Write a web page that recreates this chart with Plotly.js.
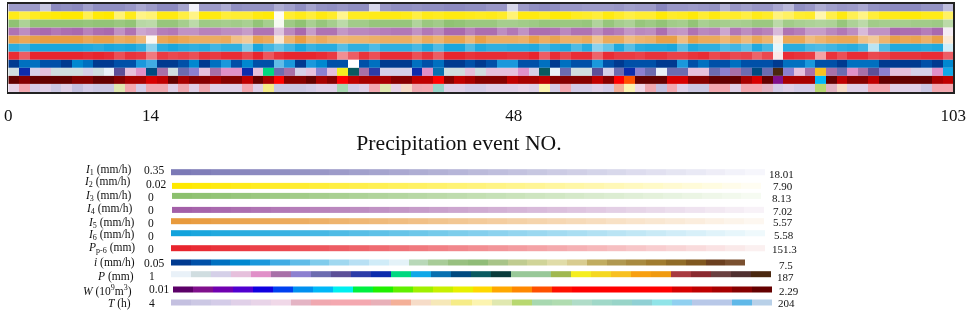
<!DOCTYPE html>
<html><head><meta charset="utf-8">
<script src="https://cdn.plot.ly/plotly-3.0.1.min.js"></script>
<style>html,body{margin:0;padding:0;background:#fff}#c{width:969px;height:311px;filter:blur(0.4px)}</style>
</head><body><div id="c"></div>
<script>
// colour class of each precipitation event (0..29), one list per variable
const I1=[8,8,8,18,4,5,4,9,5,5,5,7,11,8,4,4,10,28,8,8,12,5,6,6,6,12,9,5,10,6,
5,7,5,5,22,7,5,5,6,5,5,4,4,5,5,7,7,22,8,5,4,5,7,7,8,8,8,7,9,8,
8,3,7,7,8,7,6,13,7,9,7,7,11,15,5,7,12,9,7,8,11,6,5,4,4,4,6,6,16];
const I2=[3,8,4,2,1,0,0,10,1,0,14,3,16,14,2,2,8,16,1,2,7,6,6,2,1,29,6,3,7,2,
5,17,4,4,3,2,2,3,8,3,4,2,2,3,4,3,5,14,2,2,4,1,1,4,5,7,2,5,8,6,
6,1,5,4,1,6,2,6,5,8,3,5,15,12,6,5,21,9,2,10,16,7,3,3,1,1,3,3,12];
const I3=[1,9,2,2,2,2,2,3,2,2,4,2,12,13,3,3,7,13,5,6,7,6,8,2,7,29,5,1,8,3,
7,13,6,6,3,3,3,3,10,4,6,1,2,4,4,4,7,7,6,5,3,4,4,4,3,10,3,7,9,3,
5,2,6,7,2,8,6,7,8,7,4,4,13,6,8,9,10,9,3,9,13,6,7,7,7,6,6,5,13];
const I4=[4,9,3,2,5,3,2,7,3,2,10,4,14,12,6,5,10,10,7,7,9,9,12,4,4,20,8,2,12,4,
4,11,8,8,7,6,5,5,10,5,8,2,2,7,3,3,9,5,10,3,3,4,8,4,4,9,4,6,11,8,
9,3,10,11,4,8,7,14,5,9,5,7,18,4,6,12,12,8,5,9,18,10,10,2,3,3,6,2,28];
const I5=[2,4,2,1,1,1,1,4,2,2,6,4,9,29,4,2,4,6,6,6,5,12,15,3,5,24,8,1,8,5,
8,9,8,8,7,6,6,6,10,5,8,3,3,9,2,6,6,6,7,2,6,3,7,7,5,13,5,5,11,8,
7,2,2,11,2,5,5,9,5,10,4,8,26,4,4,11,8,5,4,4,12,15,8,2,4,3,7,2,25];
const I6=[3,5,1,1,1,1,1,2,3,1,2,1,4,16,3,1,3,4,3,6,4,4,14,1,6,11,6,1,5,3,
3,9,4,4,8,4,4,4,7,2,8,1,1,8,2,4,4,3,3,2,6,3,2,8,3,16,11,2,9,3,
2,2,1,9,2,4,4,8,6,10,2,7,28,3,3,7,8,6,4,3,6,22,8,2,2,2,3,2,25];
const Pp6=[1,8,0,0,0,0,0,1,0,1,6,2,3,12,3,5,4,6,2,3,1,1,5,0,7,2,0,0,0,1,
3,15,8,2,6,1,1,1,6,2,8,0,0,2,1,1,1,2,2,0,8,1,5,1,1,9,1,3,3,4,
2,2,4,4,2,1,5,3,5,4,9,5,28,1,2,3,18,2,6,1,1,5,4,2,2,2,1,1,8];
const iRate=[0,2,2,1,1,0,3,2,0,0,1,1,4,5,0,0,1,3,0,2,4,1,3,1,1,6,4,0,4,3,
1,1,29,1,2,0,0,0,2,1,2,0,0,1,0,1,4,4,1,1,2,0,2,1,1,4,1,0,1,1,
1,0,0,4,1,2,1,1,2,1,1,1,0,2,2,4,1,1,0,2,2,2,0,0,0,0,1,0,3];
const Pmm=[1,10,2,3,1,1,1,2,1,0,8,3,4,14,5,1,7,6,3,5,4,4,10,3,11,7,5,2,3,6,
3,20,15,5,9,2,2,2,10,4,13,1,1,3,1,3,3,3,4,2,15,0,7,1,1,8,2,7,10,6,
7,0,7,7,3,3,7,6,5,7,14,7,29,6,3,5,22,5,7,4,5,8,6,3,3,2,2,4,12];
const Wvol=[29,28,29,29,29,29,28,28,29,29,28,27,27,25,26,29,27,28,28,27,28,28,26,29,27,23,28,28,29,27,
28,23,26,27,27,27,28,28,26,26,23,28,26,27,28,28,28,26,27,27,26,28,28,28,28,26,28,23,18,29,
29,29,25,25,28,28,29,29,29,27,25,29,1,27,27,27,7,29,26,28,28,26,29,29,29,29,29,27,26];
const That=[4,8,2,3,1,3,0,2,1,1,16,8,2,7,7,3,7,3,7,3,3,3,8,3,14,1,1,1,2,3,
3,18,2,3,8,16,4,12,7,9,22,3,3,2,2,3,3,3,4,3,15,2,8,2,2,3,2,11,15,5,
7,0,8,3,1,1,8,8,3,8,8,6,2,3,2,2,17,6,12,3,3,8,8,3,3,3,1,8,8];

const legendClasses=[0,1,2,3,4,5,6,7,8,9,10,11,12,13,14,15,16,17,18,19,20,21,22,23,24,25,26,27,28,29];
const rowData=[I1,I2,I3,I4,I5,I6,Pp6,iRate,Pmm,Wvol,That];
const rowLabels=['<i>I</i><sub>1</sub> (mm/h)','<i>I</i><sub>2</sub> (mm/h)','<i>I</i><sub>3</sub> (mm/h)','<i>I</i><sub>4</sub> (mm/h)','<i>I</i><sub>5</sub> (mm/h)','<i>I</i><sub>6</sub> (mm/h)','<i>P</i><sub>p-6</sub> (mm)','<i>i</i> (mm/h)','<i>P</i> (mm)','<i>W</i> (10<sup>9</sup>m<sup>3</sup>)','<i>T</i> (h)'];
const minLabels=['0.35','0.02','0','0','0','0','0','0.05','1','0.01','4'];
const maxLabels=['18.01','7.90','8.13','7.02','5.57','5.58','151.3','7.5','187','2.29','204'];
const tickVals=[0,13.4,47.6,89];
const tickText=['0','14','48','103'];

// styles
const rampEnds=[['#7b79b6','#f6f6fc'],['#ffe900','#fffdf2'],['#8cc06e','#f6fbf2'],['#a35fa8','#f8f2f8'],['#e89a3c','#fdf7f0'],['#12a3dc','#eff9fc'],['#e8252e','#fbf0f0']];
const palI=['#003a90','#0050a8','#0070c0','#0088d0','#1a98dc','#40acE4','#60bce8','#80ccec','#a0d8f0','#b8e0f4','#d0ecf8','#e4f2f8','#b8d8b8','#a8cc98','#98c080','#90bc78','#a8c488','#c0cc90','#d0d498','#e0dca8','#d8cc90','#c0ac60','#b09850','#a88a40','#a07c30','#906c28','#805820','#6c4020','#7a5030','#ffffff'];
const palP=['#e9f1f8','#d0dde0','#d5d0e8','#e6c0dc','#e090c8','#a870a8','#8c80d0','#6c6cb0','#5c5098','#2c3ca8','#0c2cac','#00d880','#10a8e8','#0870b0','#004a80','#0a5a60','#0a3c3c','#98c898','#98c898','#a0b850','#f5ee20','#f5d820','#f8c020','#f8a010','#f09a10','#a83a40','#8a2a30','#6a4040','#503030','#4a2810'];
const palW=['#5c0068','#80108c','#7000b0','#5000d0','#1000e0','#0040f0','#0090f0','#00b8f8','#00f0f0','#00f040','#20f000','#60f000','#a0f000','#c8f000','#e8f000','#ffd800','#ffa800','#ff8800','#ff5000','#ff1000','#ff0000','#ff0000','#ff0000','#ff0000','#ff0000','#d80000','#c00000','#a80000','#860000','#640000'];
const palT=['#c4c0e0','#ccc8e4','#d4cce8','#e0d0e8','#e8d4e8','#f0d8e8','#e4b4c4','#f0a8b0','#f4a8b0','#f4a8b0','#e8b0b8','#f4b098','#f6dcc8','#f6e8b8','#f6ec88','#fcf4b0','#e0e8b0','#b8d870','#a8d8b0','#b0dcb0','#b0dcc8','#a0d8c8','#98d4c8','#90d0d4','#90e4e8','#90d0f0','#b8c8e8','#b8c8e8','#60b8e8','#b8d0e8'];
function stepped(p){const n=p.length,s=[];p.forEach((c,k)=>{s.push([k/n,c]);s.push([(k+1)/n,c]);});return s;}
const scales=rampEnds.map(e=>[[0,e[0]],[1,e[1]]]).concat([stepped(palI),stepped(palP),stepped(palW),stepped(palT)]);
const W=969,H=311,LT=155;
const barY=[172,185.7,195.7,209.7,221,233,248,262.3,274,289.3,302.3];
const barX=[171,172,172,172,171,171,171,171,171,173,171];
const barEnd=[765,761,761,764,764,765,765,765,771,772,772];
const leftX=[132,131,132,133,135,135,136,136,135,133,132];
const leftY=[170,182,196,209,223,235,248,262,276,290,303];
const minX=[154,156,151,151,151,151,151,154,152,159,152];
const minY=[170,183.5,196.5,209.5,222.5,236,249,262.5,275.5,289,303];
const maxX=[768,772,771,772,772,773,771,778,776,778,777];
const maxY=[174,186,198,211,222,235,249,265,277,291,303];

const traces=[];
rowData.forEach((vals,r)=>{
  const st=r>=7;
  traces.push({type:'heatmap',z:[vals],y:[r],x0:0.5,dx:1,xaxis:'x',yaxis:'y',colorscale:scales[r],
    zmin:st?-0.5:0,zmax:st?29.5:29,showscale:false,hoverinfo:'skip'});
  traces.push({type:'heatmap',z:[legendClasses],y0:barY[r],dy:5.6,x0:barX[r]+(barEnd[r]-barX[r])/60,dx:(barEnd[r]-barX[r])/30,
    xaxis:'x2',yaxis:'y2',colorscale:scales[r],zmin:st?-0.5:0,zmax:st?29.5:29,showscale:false,hoverinfo:'skip'});
});
const ann=[];
const add=(t,x,y,an,sz)=>ann.push({text:t,x:x/W,y:1-y/H,xref:'paper',yref:'paper',xanchor:an,yanchor:'middle',showarrow:false,
  font:{family:'Liberation Serif',size:sz,color:'#111'},borderpad:0,align:an});
rowLabels.forEach((t,r)=>{
  add(t,leftX[r],leftY[r],'right',11.5);
  add(minLabels[r],minX[r],minY[r],'center',11.5);
  add(maxLabels[r],maxX[r],maxY[r],'left',11);
});
Plotly.newPlot('c',traces,{
  width:W,height:H,margin:{l:0,r:0,t:0,b:0},paper_bgcolor:'#fff',plot_bgcolor:'#fff',showlegend:false,
  font:{family:'Liberation Serif',color:'#111'},
  title:{text:'Precipitation event NO.',x:459/W,y:1-142/H,xref:'paper',yref:'paper',xanchor:'center',yanchor:'middle',font:{family:'Liberation Serif',size:21.7,color:'#111'}},
  xaxis:{domain:[8.3/W,953.3/W],range:[0,89],tickmode:'array',tickvals:tickVals,ticktext:tickText,ticks:'',ticklabelstandoff:7,
    tickfont:{family:'Liberation Serif',size:17,color:'#111'},showgrid:false,zeroline:false,showline:true,mirror:true,linecolor:'#222',linewidth:1.5,anchor:'y',fixedrange:true},
  yaxis:{domain:[1-92/H,1-3.5/H],range:[10.5,-0.5],showticklabels:false,ticks:'',showgrid:false,zeroline:false,showline:true,mirror:true,linecolor:'#222',linewidth:1.5,anchor:'x',fixedrange:true},
  xaxis2:{domain:[0,1],range:[0,W],visible:false,anchor:'y2',fixedrange:true},
  yaxis2:{domain:[0,1-LT/H],range:[H,LT],visible:false,anchor:'x2',fixedrange:true},
  annotations:ann
},{displayModeBar:false,staticPlot:true});
</script></body></html>
